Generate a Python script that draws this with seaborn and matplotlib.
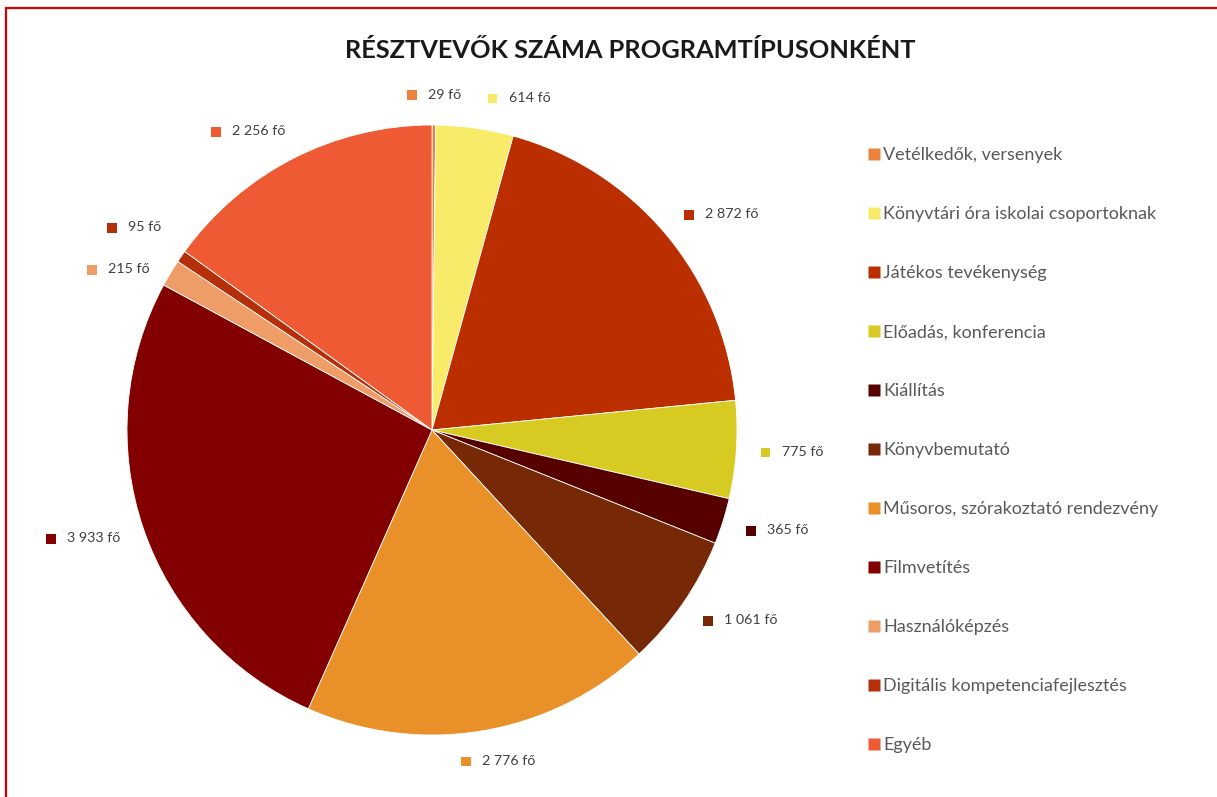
import matplotlib
matplotlib.use("Agg")
import matplotlib.pyplot as plt
import numpy as np
import seaborn as sns
from matplotlib.lines import Line2D
from matplotlib.patches import Rectangle
from matplotlib.offsetbox import AnnotationBbox, DrawingArea, HPacker, TextArea

# ---------- data ----------
categories = [
    "Vetélkedők, versenyek",
    "Könyvtári óra iskolai csoportoknak",
    "Játékos tevékenység",
    "Előadás, konferencia",
    "Kiállítás",
    "Könyvbemutató",
    "Műsoros, szórakoztató rendezvény",
    "Filmvetítés",
    "Használóképzés",
    "Digitális kompetenciafejlesztés",
    "Egyéb",
]
participants = [29, 614, 2872, 775, 365, 1061, 2776, 3933, 215, 95, 2256]
colors = [
    "#E8843C", "#F9EB6A", "#BA2E00", "#D7CB23", "#560000", "#772806",
    "#EA9029", "#820000", "#EE9D66", "#B5300A", "#EE5A33",
]
title = "RÉSZTVEVŐK SZÁMA PROGRAMTÍPUSONKÉNT"


def fmt(v):
    return f"{v:,}".replace(",", " ") + " fő"


def clash(b0, b1, px, py):
    return (b0.x1 + px > b1.x0 and b1.x1 + px > b0.x0
            and b0.y1 + py > b1.y0 and b1.y1 + py > b0.y0)


# ---------- style ----------
sns.set_theme(style="white")
plt.rcParams["font.family"] = ["Lato", "DejaVu Sans"]
palette = sns.color_palette(colors)

W, H, DPI = 1217, 797, 100
fig = plt.figure(figsize=(W / DPI, H / DPI), dpi=DPI)

# pie centre (432, 430) px, radius 305 px
cx, cy, R = 432, 430, 305
half = 400
ax = fig.add_axes([(cx - half) / W, (H - cy - half) / H, 2 * half / W, 2 * half / H])
ax.axis("off")

wedges, _ = ax.pie(
    participants, colors=palette, startangle=90, counterclock=False,
    radius=1, wedgeprops=dict(linewidth=0.6, edgecolor="white"),
)
lim = half / R
ax.set_xlim(-lim, lim)
ax.set_ylim(-lim, lim)
ax.set_aspect("equal")

# ---------- data labels ----------
labels = []
for w, v, c in zip(wedges, participants, palette):
    ang = np.deg2rad((w.theta1 + w.theta2) / 2)
    x, y = np.cos(ang) * 1.08, np.sin(ang) * 1.08
    da = DrawingArea(8, 8, 0, 0)
    da.add_artist(Rectangle((0, 0), 7, 7, facecolor=c, edgecolor="none"))
    ta = TextArea(fmt(v), textprops=dict(fontsize=10.3, color="#404040"))
    box = HPacker(children=[da, ta], align="center", pad=0, sep=7)
    ax_ = np.clip(0.5 - np.cos(ang), 0, 1)
    ay_ = np.clip(0.5 - 0.5 * np.sin(ang), 0, 1)
    ab = AnnotationBbox(box, (x, y), xycoords="data", xybox=(0, 0),
                        boxcoords="offset pixels", frameon=False,
                        box_alignment=(ax_, ay_), pad=0)
    ax.add_artist(ab)
    labels.append(ab)

# push apart neighbouring labels that sit too close (Excel-like spreading)
fig.canvas.draw()
r = fig.canvas.get_renderer()
for prev, cur in zip(labels[:-1], labels[1:]):
    b0 = prev.get_window_extent(r)
    b1 = cur.get_window_extent(r)
    if not clash(b0, b1, 0, 0) and not clash(b0, b1, 0, 30):
        continue
    d = np.array([b1.x0 + b1.width / 2 - b0.x0 - b0.width / 2,
                  b1.y0 + b1.height / 2 - b0.y0 - b0.height / 2])
    p0 = np.array(prev.xybox, dtype=float)
    if abs(d[1]) > abs(d[0]) or not clash(b0, b1, 0, 0):
        # vertical clash: spread both labels apart
        d = np.array([0.0, np.sign(d[1])])
        w0, w1, px, py = 0.5, 0.5, 0, 30
    else:
        d = np.array([np.sign(d[0]), 0.0])
        w0, w1, px, py = 0.0, 1.0, 26, 0
    step = 0
    while clash(prev.get_window_extent(r), cur.get_window_extent(r), px, py) and step < 300:
        step += 1
        prev.xybox = tuple(p0 - d * step * w0)
        cur.xybox = tuple(d * step * w1)

# ---------- legend ----------
handles = [Line2D([0], [0], marker="s", linestyle="none", markersize=8,
                  markerfacecolor=c, markeredgecolor="none") for c in palette]
leg = fig.legend(handles, categories, loc="upper left",
                 bbox_to_anchor=(860 / W, 1 - 140 / H), frameon=False,
                 fontsize=13, labelcolor="#595959", handletextpad=0.1,
                 labelspacing=2.38, handlelength=0.8, borderaxespad=0)

# ---------- title ----------
fig.text(630 / W, 1 - 50 / H, title, ha="center", va="center",
         fontsize=18.3, fontweight="bold", color="#1a1a1a")

# ---------- red frame (left and top) ----------
fig.add_artist(Line2D([6 / W, 6 / W], [0, 1 - 8 / H], transform=fig.transFigure,
                      color="#D40000", linewidth=1.6))
fig.add_artist(Line2D([6 / W, 1], [1 - 8 / H, 1 - 8 / H], transform=fig.transFigure,
                      color="#D40000", linewidth=1.6))

fig.savefig("out.png", dpi=DPI, facecolor="white")
